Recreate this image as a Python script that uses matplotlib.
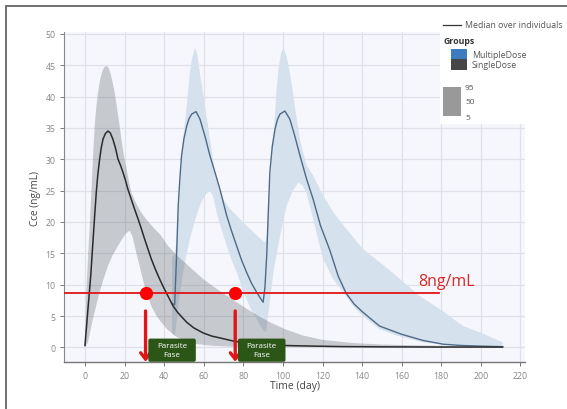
import numpy as np
import matplotlib
matplotlib.use("Agg")
import matplotlib.pyplot as plt
from matplotlib.patches import Rectangle, FancyBboxPatch, FancyArrowPatch

plt.rcParams['font.family'] = ['Open Sans', 'DejaVu Sans']

# ---------------- data ----------------
# Single dose: median and 5-95 percentile band
sd_med_t = [0, 0.7, 1.5, 2.2, 2.9, 4, 5, 5.7, 6.5, 7.4, 8.2, 9.1, 10.3, 11.6, 12.8, 14.1, 15.4, 16.7, 18, 19.2, 20.5,
            21.7, 23.4, 25, 26.8, 28.5, 30.1, 31.8, 33.5, 35.5, 37.7, 39.8, 41.9, 44.5, 47, 51.4, 55, 59.7, 64, 68.2,
            75, 83, 92, 100, 115, 130, 150, 180, 211]
sd_med = [0.3, 3, 6.1, 8.7, 11.4, 16.7, 21.5, 24.7, 27.6, 30.0, 31.8, 33.2, 34.1, 34.5, 34.2, 33.2, 31.8, 30.0, 29.0,
          27.9, 26.6, 25.2, 23.6, 22.1, 20.5, 18.9, 17.3, 15.7, 14.1, 12.5, 10.9, 9.5, 8.2, 6.6, 5.5, 4.0, 3.1, 2.3,
          1.8, 1.5, 1.0, 0.6, 0.4, 0.3, 0.2, 0.12, 0.08, 0.05, 0.05]
sd_up_t = [0, 0.7, 1.5, 2.4, 3.2, 4, 4.9, 5.7, 6.6, 7.6, 8.7, 9.8, 10.8, 11.9, 13, 14, 15, 16.2, 17.5, 18.7, 20, 21.7,
           23.4, 25.8, 28.4, 31.5, 35.2, 38.5, 41.9, 47, 53, 59.7, 68, 76.6, 85, 93.4, 101, 110, 120, 135, 150, 170,
           190, 211]
sd_up = [0.8, 8.8, 14.1, 19.4, 24.7, 30, 35.3, 38.2, 40.7, 42.6, 44.0, 44.7, 44.9, 44.6, 43.6, 42.2, 40.7, 38.2, 35.3,
         32.6, 30.0, 27.3, 24.7, 23.0, 21.5, 20.2, 18.9, 17.8, 16.2, 14.5, 12.8, 10.9, 9.0, 7.2, 5.5, 4.0, 2.9, 1.9,
         1.2, 0.7, 0.45, 0.3, 0.2, 0.15]
sd_lo_t = [0, 1.5, 4, 5.7, 7.4, 9.5, 11.6, 14, 16.7, 18.8, 20.8, 22.6, 23.9, 25.1, 26.3, 27.6, 28.8, 30.1, 31.8, 33.5,
           36, 38.5, 41.5, 45.3, 50, 56, 64, 75, 90, 120, 211]
sd_lo = [0, 0.8, 4.5, 6.7, 8.8, 11.0, 13.0, 14.7, 16.2, 17.3, 18.2, 18.6, 17.8, 16.2, 14.6, 13.0, 11.4, 9.8, 8.2, 6.6,
         5.1, 4.0, 2.9, 1.85, 1.1, 0.55, 0.25, 0.1, 0.05, 0.02, 0]

# Multiple dose (same as single dose until the second dose at ~45 days)
md_med_t = [44, 45.3, 46.2, 47.1, 48, 48.8, 50, 51.4, 52.6, 53.9, 56.1, 58.1, 60.6, 63.1, 65.7, 68.2, 71.6, 74, 76.6,
            79, 81.6, 84, 86.7, 88.5, 90, 90.9, 91.8, 92.6, 93.4, 94.6, 96, 97.2, 98.5, 101, 103.5, 106, 108.6, 112,
            115.3, 119, 123.7, 128, 132, 136, 140.4, 148.8, 159.8, 170.8, 181, 190, 199.5, 211]
md_med = [7.0, 6.8, 14, 22.6, 27.2, 30.6, 33.3, 35.3, 36.5, 37.2, 37.6, 36.4, 33.7, 30.6, 27.9, 25.2, 21.0, 18.6, 16.2,
          14.0, 12.0, 10.3, 8.8, 7.9, 7.2, 9.5, 14.6, 21.5, 27.9, 32.0, 34.8, 36.3, 37.2, 37.7, 36.4, 33.7, 30.6, 26.8,
          23.6, 19.4, 15.5, 11.3, 8.6, 6.9, 5.6, 3.4, 2.1, 1.1, 0.5, 0.3, 0.2, 0.1]
md_up_t = [44, 45.3, 46.3, 47.2, 48, 48.8, 49.6, 50.5, 51.4, 52.2, 53, 54.2, 55.6, 56.8, 58, 59.3, 60.6, 61.9, 63.1,
           64.4, 65.7, 67.8, 69.9, 73, 76.6, 80, 83.3, 87, 90.9, 91.8, 92.6, 93.4, 94.3, 95.1, 96, 96.8, 97.8, 99,
           100.2, 101.8, 103.5, 104.8, 106, 107.3, 108.6, 110.3, 112, 115.3, 120.3, 126, 132, 140.4, 148.8, 157.3,
           169, 179.3, 191, 199.5, 211]
md_up = [14.3, 15, 17.3, 21.3, 25.2, 29.2, 33.2, 35.9, 38.5, 41.2, 43.9, 46.2, 47.8, 46.6, 43.9, 41.2, 38.5, 35.9, 33.2,
         30.6, 27.9, 25.5, 23.6, 22.2, 21.0, 19.9, 18.9, 17.8, 16.7, 17.3, 21.0, 25.2, 29.2, 33.2, 37.2, 41.2, 44.5,
         46.8, 47.8, 46.5, 43.9, 41.2, 38.5, 35.8, 33.2, 31.0, 29.0, 27.4, 24.2, 21.3, 18.9, 15.7, 13.6, 11.4, 8.2,
         6.1, 3.4, 2.4, 0.8]
md_lo_t = [44, 45.5, 47.5, 49.6, 51.3, 53, 55.5, 58, 60.5, 63.1, 64.8, 66.5, 69, 71.6, 74, 76.6, 79, 81.6, 84, 86.7,
           89.2, 90.5, 91.5, 93.3, 95.2, 97.5, 99.3, 101.9, 104.8, 107.7, 110, 112, 115.3, 117.8, 120.3, 125.4, 130.4,
           135.5, 140.4, 148.8, 157.3, 170.8, 182, 195, 211]
md_lo = [2.2, 2.0, 7.5, 12, 14.8, 17.3, 20.2, 22.6, 24.2, 25.0, 24.0, 21.5, 18.8, 16.2, 14.0, 12.0, 9.8, 7.7, 6.0, 4.5,
         3.2, 2.6, 2.5, 7.0, 12, 16.0, 19.0, 22.6, 24.8, 26.3, 25.8, 24.5, 20.5, 17.2, 14.1, 10.9, 8.8, 6.6, 5.0, 2.9,
         1.9, 0.8, 0.4, 0.15, 0.05]

threshold = 8.7
threshold_end = 179
threshold_label = "8ng/mL"
cross_times = [30.6, 75.9]
phase_label = "Parasite\nFase"

x_ticks = list(range(0, 221, 20))
y_ticks = list(range(0, 51, 5))

# ---------------- figure ----------------
W, H = 567, 410
fig = plt.figure(figsize=(W / 100, H / 100), dpi=100)

def fx(px):
    return px / W

def fy(py):
    return 1 - py / H

ax_left, ax_right, ax_top, ax_bot = 64, 525, 33, 363.4
ax = fig.add_axes([fx(ax_left), fy(ax_bot), (ax_right - ax_left) / W, (ax_bot - ax_top) / H])
ax.set_xlim(-10.6, 222.3)
ax.set_ylim(-2.4, 50.3)
ax.set_facecolor('#f6f7fc')

ax.set_xticks(x_ticks)
ax.set_yticks(y_ticks)
ax.grid(True, color='#e0e0ea', linewidth=0.9)
ax.set_axisbelow(True)
for s in ['top', 'right']:
    ax.spines[s].set_visible(False)
ax.spines['left'].set_color('#888888')
ax.spines['bottom'].set_color('#777777')
ax.spines['left'].set_linewidth(0.8)
ax.spines['bottom'].set_linewidth(1.0)
ax.tick_params(axis='both', labelsize=6.3, colors='#777777', length=3, width=0.7, pad=3)
ax.tick_params(axis='x', labelcolor='#888888')
ax.tick_params(axis='y', labelcolor='#888888')
ax.set_xlabel("Time (day)", fontsize=7.5, color='#444444', labelpad=0)
ax.set_ylabel("Cce (ng/mL)", fontsize=7.2, color='#444444', labelpad=3)

# bands
ax.fill(np.concatenate([md_up_t, md_lo_t[::-1]]), np.concatenate([md_up, md_lo[::-1]]),
        color='#d5e1ed', linewidth=0, zorder=2)
ax.fill(np.concatenate([sd_up_t, sd_lo_t[::-1]]), np.concatenate([sd_up, sd_lo[::-1]]),
        color='#5a5f66', alpha=0.3, linewidth=0, zorder=3)
# medians
ax.plot(md_med_t, md_med, color='#4f6a86', linewidth=1.0, zorder=4)
ax.plot(sd_med_t, sd_med, color='#2b2b2b', linewidth=1.1, zorder=5)

# threshold
ax.plot([-10.6, threshold_end], [threshold, threshold], color='#e01515', linewidth=1.3, zorder=6)
ax.text(168.2, threshold + 0.6, threshold_label, color='#d42a2a', fontsize=11.5, ha='left', va='bottom', zorder=7)
ax.plot(cross_times, [threshold] * len(cross_times), 'o', color='#ff0000', markersize=9.5, zorder=8, markeredgewidth=0)

for tc in cross_times:
    ax.add_patch(FancyArrowPatch((tc, 5.8), (tc, -2.3), arrowstyle='->,head_width=3.5,head_length=4.5',
                                 color='#e01515', linewidth=2.4, mutation_scale=1, zorder=8,
                                 shrinkA=0, shrinkB=0, clip_on=False))
    bx0 = tc + 1.4
    ax.add_patch(FancyBboxPatch((bx0, -2.3), 24.0, 3.7, boxstyle='round,pad=0,rounding_size=1.0',
                                facecolor='#2c5618', edgecolor='none', zorder=9, mutation_aspect=0.3))
    ax.text(bx0 + 12.0, -0.45, phase_label, color='white', fontsize=5.8, ha='center', va='center',
            linespacing=1.3, zorder=10)

# legend (white box, top right)
fig.add_artist(Rectangle((fx(440), fy(125)), fx(127), (125 - 17) / H, facecolor='white', edgecolor='none',
                         transform=fig.transFigure, zorder=20))
fig.add_artist(plt.Line2D([fx(443), fx(461)], [fy(26), fy(26)], color='#333333', linewidth=0.9,
                          transform=fig.transFigure, zorder=21))
fig.text(fx(465), fy(26), "Median over individuals", fontsize=6.3, color='#555555', va='center', zorder=21)
fig.text(fx(443), fy(42), "Groups", fontsize=6.3, color='#333333', va='center', weight='bold', zorder=21)
fig.add_artist(Rectangle((fx(451), fy(60.5)), fx(16), 10.5 / H, facecolor='#3d7dbf', edgecolor='none',
                         transform=fig.transFigure, zorder=21))
fig.add_artist(Rectangle((fx(451), fy(71)), fx(16), 10.5 / H, facecolor='#464646', edgecolor='none',
                         transform=fig.transFigure, zorder=21))
fig.text(fx(472), fy(55), "MultipleDose", fontsize=6.3, color='#555555', va='center', zorder=21)
fig.text(fx(472), fy(66), "SingleDose", fontsize=6.3, color='#555555', va='center', zorder=21)
fig.add_artist(Rectangle((fx(443), fy(117)), fx(18), 29 / H, facecolor='#999999', edgecolor='none',
                         transform=fig.transFigure, zorder=21))
for lab, py in zip(["95", "50", "5"], [89, 103, 118]):
    fig.text(fx(465), fy(py), lab, fontsize=6.0, color='#555555', va='center', zorder=21)

# outer frame
fig.add_artist(Rectangle((fx(6), fy(420)), fx(580), (420 - 7) / H, facecolor='none', edgecolor='#666666',
                         linewidth=1.3, transform=fig.transFigure, zorder=30, clip_on=False))

fig.savefig("out.png", dpi=100)
